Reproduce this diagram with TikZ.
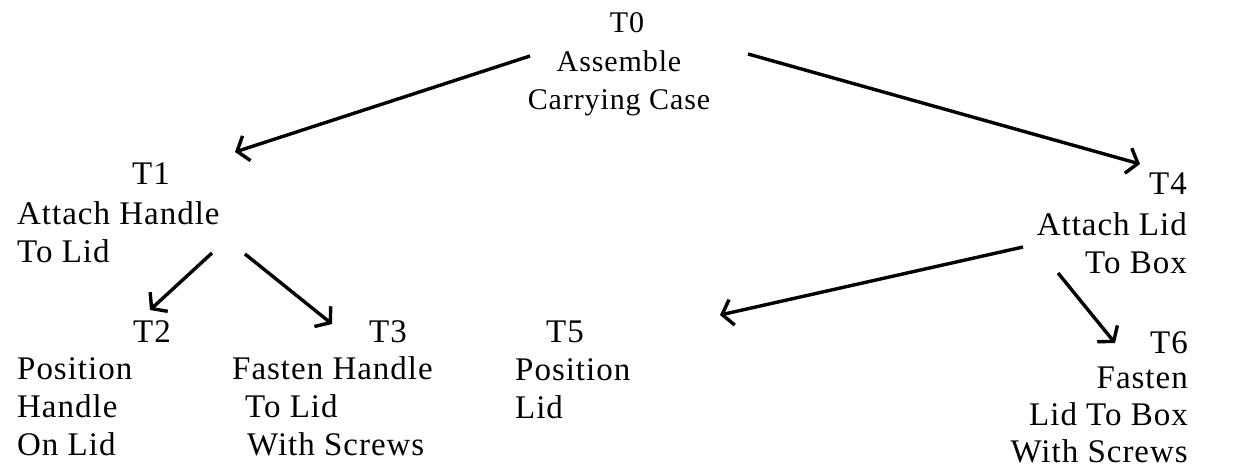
\documentclass[tikz,border=0pt]{standalone}
\usepackage{fontspec}
\setmainfont{Liberation Serif}
\newfontfamily\taskfont[LetterSpace=3]{Liberation Serif}
\usetikzlibrary{arrows.meta}
\begin{document}
\begin{tikzpicture}[x=1pt,y=1pt,
  task/.style={inner sep=0pt, font=\taskfont\fontsize{33}{38}\selectfont},
  toptask/.style={inner sep=0pt, font=\taskfont\fontsize{30}{38}\selectfont},
  arr/.style={line width=3.4pt, -{Straight Barb[length=10pt,width=26pt]}}]
\useasboundingbox (0,0) rectangle (1251,-468);

% root task (multi-line nodes sit on the baseline of their last line)
\node[toptask, anchor=base] (t0id) at (627,-33) {T0};
\node[toptask, anchor=base, align=center] (t0) at (619,-110) {Assemble\\Carrying Case};

% left sub-tree
\node[task, anchor=base] (t1id) at (151,-185) {T1};
\node[task, anchor=base west, align=left] (t1) at (17,-262) {Attach Handle\\To Lid};

\node[task, anchor=base] (t2id) at (152,-342) {T2};
\node[task, anchor=base west, align=left] (t2) at (17,-455) {Position\\Handle\\On Lid};

\node[task, anchor=base] (t3id) at (388,-342) {T3};
\node[task, anchor=base west, align=left] (t3) at (232,-455)
  {Fasten Handle\\\hspace*{13pt}To Lid\\\hspace*{15pt}With Screws};

% right sub-tree
\node[task, anchor=base east] (t4id) at (1187,-195) {T4};
\node[task, anchor=base east, align=right] (t4) at (1187,-273) {Attach Lid\\To Box};

\node[task, anchor=base] (t5id) at (565,-342) {T5};
\node[task, anchor=base west, align=left] (t5) at (515,-418) {Position\\Lid};

\node[task, anchor=base east] (t6id) at (1188,-353) {T6};
\node[task, anchor=base east, align=right, font=\taskfont\fontsize{33}{37}\selectfont]
  (t6) at (1188,-462) {Fasten\\Lid To Box\\With Screws};

% decomposition arrows
\draw[arr] ([shift={(-89,54)}]t0.base) -- ([shift={(84,33)}]t1id.base);
\draw[arr] ([shift={(129,56)}]t0.base) -- ([shift={(-47,31)}]t4id.base east);
\draw[arr] ([shift={(195,9)}]t1.base west) -- ([shift={(-2,32)}]t2id.base);
\draw[arr] ([shift={(228,8)}]t1.base west) -- ([shift={(-56,18)}]t3id.base);
\draw[arr] ([shift={(-164,26)}]t4.base east) -- ([shift={(155,27)}]t5id.base);
\draw[arr] ([shift={(-129,0)}]t4.base east) -- ([shift={(-73,10)}]t6id.base east);
\end{tikzpicture}
\end{document}
